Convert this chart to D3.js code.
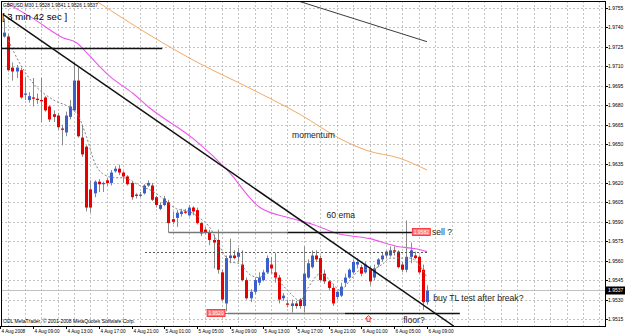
<!DOCTYPE html>
<html><head><meta charset="utf-8">
<script src="https://cdn.jsdelivr.net/npm/d3@7"></script>
<style>
body{margin:0;background:#fff}
svg{display:block}
text{font-family:"Liberation Sans",Arial,sans-serif}
</style>
</head><body>
<svg id="c" width="625" height="335"></svg>
<script>
// ---------- DATA ----------
const headerText = "GBPUSD,M30  1.9528 1.9541 1.9526 1.9537";
const timerText = "[ 3 min 42 sec ]";
const copyrightText = "ODL MetaTrader, \u00A9 2001-2008 MetaQuotes Software Corp.";
// bars: 30-minute candles, first bar index -7 (= 4 Aug 2008 05:30), index 0 = 4 Aug 09:00
const firstBarIndex = -7;
const opens = [1.9733,1.9733,1.9709,1.9706,1.9707,1.9688,1.9684,1.9686,1.9685,1.9684,1.9686,1.9679,1.9673,1.9672,1.9662,1.9659,1.9671,1.9676,1.9699,1.9655,1.9648,1.9615,1.9612,1.9621,1.9619,1.9622,1.9620,1.9629,1.9631,1.9628,1.9625,1.9620,1.9611,1.9610,1.9612,1.9618,1.9618,1.9609,1.9600,1.9603,1.9605,1.9592,1.9593,1.9596,1.9598,1.9595,1.9601,1.9599,1.9589,1.9584,1.9582,1.9576,1.9576,1.9551,1.9527,1.9562,1.9564,1.9563,1.9557,1.9545,1.9531,1.9536,1.9543,1.9545,1.9551,1.9557,1.9551,1.9547,1.9531,1.9527,1.9525,1.9527,1.9530,1.9525,1.9547,1.9555,1.9564,1.9562,1.9550,1.9544,1.9539,1.9532,1.9533,1.9543,1.9547,1.9551,1.9557,1.9555,1.9551,1.9554,1.9547,1.9557,1.9561,1.9564,1.9564,1.9568,1.9567,1.9557,1.9553,1.9563,1.9564,1.9563,1.9553,1.9528];
const highs = [1.9747,1.9735,1.9713,1.9711,1.9709,1.9702,1.9690,1.9701,1.9689,1.9701,1.9687,1.9680,1.9676,1.9674,1.9665,1.9675,1.9684,1.9713,1.9709,1.9665,1.9649,1.9622,1.9622,1.9623,1.9621,1.9624,1.9630,1.9633,1.9634,1.9629,1.9626,1.9621,1.9612,1.9613,1.9619,1.9622,1.9620,1.9610,1.9605,1.9610,1.9607,1.9598,1.9599,1.9600,1.9600,1.9603,1.9602,1.9601,1.9590,1.9586,1.9584,1.9580,1.9584,1.9553,1.9564,1.9577,1.9568,1.9570,1.9568,1.9547,1.9538,1.9547,1.9551,1.9553,1.9564,1.9563,1.9566,1.9549,1.9535,1.9530,1.9530,1.9529,1.9531,1.9571,1.9561,1.9568,1.9568,1.9564,1.9553,1.9545,1.9541,1.9537,1.9543,1.9550,1.9554,1.9561,1.9562,1.9557,1.9559,1.9556,1.9557,1.9562,1.9566,1.9568,1.9571,1.9571,1.9568,1.9559,1.9591,1.9574,1.9567,1.9564,1.9557,1.9541];
const lows = [1.9732,1.9706,1.9699,1.9701,1.9685,1.9684,1.9682,1.9679,1.9681,1.9667,1.9675,1.9667,1.9667,1.9661,1.9649,1.9656,1.9669,1.9675,1.9655,1.9640,1.9598,1.9597,1.9609,1.9613,1.9613,1.9618,1.9618,1.9628,1.9626,1.9620,1.9618,1.9607,1.9608,1.9609,1.9611,1.9617,1.9606,1.9601,1.9599,1.9602,1.9582,1.9588,1.9586,1.9594,1.9596,1.9594,1.9595,1.9588,1.9579,1.9580,1.9572,1.9554,1.9550,1.9529,1.9521,1.9558,1.9561,1.9559,1.9544,1.9530,1.9528,1.9534,1.9541,1.9544,1.9550,1.9550,1.9543,1.9527,1.9529,1.9524,1.9520,1.9523,1.9523,1.9520,1.9546,1.9554,1.9559,1.9544,1.9542,1.9537,1.9525,1.9530,1.9532,1.9540,1.9546,1.9550,1.9554,1.9548,1.9550,1.9541,1.9545,1.9555,1.9559,1.9562,1.9563,1.9564,1.9554,1.9551,1.9551,1.9558,1.9561,1.9550,1.9522,1.9526];
const closes = [1.9736,1.9707,1.9706,1.9709,1.9686,1.9689,1.9687,1.9685,1.9684,1.9683,1.9676,1.9669,1.9671,1.9663,1.9661,1.9672,1.9679,1.9699,1.9656,1.9642,1.9601,1.9601,1.9621,1.9619,1.9620,1.9620,1.9628,1.9631,1.9628,1.9625,1.9619,1.9609,1.9610,1.9611,1.9618,1.9620,1.9607,1.9603,1.9603,1.9608,1.9589,1.9590,1.9597,1.9598,1.9597,1.9601,1.9598,1.9589,1.9581,1.9582,1.9576,1.9574,1.9553,1.9530,1.9562,1.9564,1.9562,1.9566,1.9545,1.9531,1.9536,1.9545,1.9547,1.9551,1.9562,1.9554,1.9547,1.9530,1.9533,1.9526,1.9527,1.9525,1.9525,1.9550,1.9558,1.9564,1.9561,1.9545,1.9544,1.9539,1.9527,1.9536,1.9540,1.9547,1.9553,1.9559,1.9559,1.9550,1.9557,1.9544,1.9554,1.9561,1.9564,1.9567,1.9568,1.9567,1.9555,1.9553,1.9563,1.9568,1.9562,1.9551,1.9528,1.9537];
const bidPrice = 1.9537;

// indicator lines (bar index, price)
const ema60Bars   = [-6,0,7.3,10.7,13.2,18.8,24.4,28,39.5,47.3,55.3,62.6,68.2,74.1,82.1,88.7,93.6,96];
const ema60Values = [1.9758,1.9747,1.9732,1.9728,1.9720,1.9702,1.9689,1.9679,1.9653,1.9630,1.9601,1.9593,1.9588,1.9581,1.9577,1.9571,1.9569,1.9567];
const momentumBars   = [15.6,28.5,40.7,52.9,65,75.5,81.4,89.4,96];
const momentumValues = [1.9760,1.9734,1.9712,1.9693,1.9673,1.9653,1.9645,1.9639,1.9630];
const slowMaBars   = [65,80,96];
const slowMaValues = [1.9760,1.9745,1.9729];
const fastMaBars   = [-6,-3,0,5,9,11,13,15,17,20,22,26,30,32,35,38,41,43,46,48,50,53,55,58,60,63,65,67,70,72,75,77,80,82,85,87,89,92,94,96];
const fastMaValues = [1.9730,1.9711,1.9697,1.9684,1.9678,1.9672,1.9656,1.9636,1.9627,1.9624,1.9624,1.9618,1.9612,1.9607,1.9600,1.9598,1.9592,1.9586,1.9568,1.9559,1.9558,1.9549,1.9547,1.9551,1.9544,1.9534,1.9529,1.9539,1.9550,1.9546,1.9537,1.9544,1.9553,1.9553,1.9557,1.9562,1.9562,1.9562,1.9557,1.9547];

// drawn objects
const trendBars = [-7.3, 95];          const trendPrices = [1.9750, 1.9526];
const topLineBars = [-8, 31.5];        const topLinePrice = 1.9724;
const sellGreyBars = [33, 62];         const sellBlackBars = [62, 92.3]; const sellPrice = 1.9582;
const floorGreyBars = [47.4, 76];      const floorBlackBars = [76, 104];  const floorPrice = 1.9520;
const dottedBars = [27.3, 96];         const dottedPrice = 1.9567;
const priceLabelTexts = ["1.9582", "1.9520"];
const priceLabelBars  = [92.3, 47.4];
const priceLabelPrices = [1.9582, 1.9520];
const priceLabelSide = ["right", "left"];

const noteTexts  = ["momentum", "60 ema", "sell ?", "buy TL test after break?", "floor?"];
const noteBars   = [63.1, 71.5, 97.2, 97.5, 90.2];
const notePrices = [1.9655, 1.9593, 1.9580, 1.9529, 1.9512];
const arrowBar = 81.6, arrowPrice = 1.9516;

const priceTicks = [1.9755,1.9740,1.9725,1.9710,1.9695,1.9680,1.9665,1.9650,1.9635,1.9620,1.9605,1.9590,1.9575,1.9560,1.9545,1.9530,1.9515];
const timeLabels = ["4 Aug 2008","4 Aug 09:00","4 Aug 13:00","4 Aug 17:00","4 Aug 21:00","5 Aug 01:00","5 Aug 05:00","5 Aug 09:00","5 Aug 13:00","5 Aug 17:00","5 Aug 21:00","6 Aug 01:00","6 Aug 05:00","6 Aug 09:00"];
const timeLabelBars = [-8,0,8,16,24,32,40,48,56,64,72,80,88,96];

// ---------- DRAW ----------
const HALF_HOUR = 30*60*1000;
const base = Date.UTC(2008,7,4,9,0);
const t = k => new Date(base + k*HALF_HOUR);

const L = 1, R = 605, T = 1, B = 326;
const x = d3.scaleUtc().domain([t(0), t(96)]).range([33, 427]);
const y = d3.scaleLinear().domain([1.9515, 1.9755]).range([319, 8]);

const svg = d3.select("#c");
svg.append("rect").attr("width",625).attr("height",335).attr("fill","#fff");
svg.append("defs").append("clipPath").attr("id","plot")
  .append("rect").attr("x",L).attr("y",T).attr("width",R-L).attr("height",B-T);

const g = svg.append("g").attr("clip-path","url(#plot)");

// grid
const gridTimes = d3.utcHour.every(2).range(new Date(Date.UTC(2008,7,4,5)), x.invert(R));
g.append("g").selectAll("line").data(gridTimes).join("line")
  .attr("x1",d=>Math.round(x(d))+0.5).attr("x2",d=>Math.round(x(d))+0.5)
  .attr("y1",T).attr("y2",B)
  .attr("stroke","#c4c4c4").attr("stroke-dasharray","2,2");
g.append("g").selectAll("line").data(priceTicks).join("line")
  .attr("x1",L).attr("x2",R)
  .attr("y1",d=>Math.round(y(d))+0.5).attr("y2",d=>Math.round(y(d))+0.5)
  .attr("stroke","#c4c4c4").attr("stroke-dasharray","2,2");

// bid line
g.append("line").attr("x1",L).attr("x2",R)
  .attr("y1",Math.round(y(bidPrice))+0.5).attr("y2",Math.round(y(bidPrice))+0.5)
  .attr("stroke","#c0c0c0");

// candles
const bars = opens.map((o,i)=>({k:i+firstBarIndex,o,h:highs[i],l:lows[i],c:closes[i]}));
const cg = g.append("g");
cg.selectAll("line").data(bars).join("line")
  .attr("x1",d=>Math.round(x(t(d.k)))+0.5).attr("x2",d=>Math.round(x(t(d.k)))+0.5)
  .attr("y1",d=>y(d.h)).attr("y2",d=>y(d.l))
  .attr("stroke","#8a8a8a");
cg.selectAll("rect").data(bars).join("rect")
  .attr("x",d=>Math.round(x(t(d.k)))-1).attr("width",3)
  .attr("y",d=>y(Math.max(d.o,d.c)))
  .attr("height",d=>Math.max(1, Math.abs(y(d.o)-y(d.c))))
  .attr("fill",d=>d.c>d.o?"#3a5fcd":(d.c<d.o?"#e60000":"#8a8a8a"));

// indicator lines
function series(bs, vs){ return bs.map((b,i)=>[x(t(b)), y(vs[i])]); }
const smooth = d3.line().curve(d3.curveMonotoneX);
g.append("path").attr("d",smooth(series(fastMaBars,fastMaValues)))
  .attr("fill","none").attr("stroke","#808080").attr("stroke-dasharray","2,2");
g.append("path").attr("d",smooth(series(momentumBars,momentumValues)))
  .attr("fill","none").attr("stroke","#f5a960").attr("stroke-width",1);
g.append("path").attr("d",smooth(series(slowMaBars,slowMaValues)))
  .attr("fill","none").attr("stroke","#3c3c3c").attr("stroke-width",1);
g.append("path").attr("d",smooth(series(ema60Bars,ema60Values)))
  .attr("fill","none").attr("stroke","#ee55ee").attr("stroke-width",1.1);

// objects
function hline(bs, p, color, dash){
  const yy = Math.round(y(p))+0.5;
  g.append("line").attr("x1",x(t(bs[0]))).attr("x2",x(t(bs[1])))
    .attr("y1",yy).attr("y2",yy).attr("stroke",color)
    .attr("stroke-width", dash?1:1.3)
    .attr("stroke-dasharray", dash||null);
}
hline(dottedBars, dottedPrice, "#555", "2,2");
hline(topLineBars, topLinePrice, "#111");
hline(sellGreyBars, sellPrice, "#777");
hline(sellBlackBars, sellPrice, "#111");
hline(floorGreyBars, floorPrice, "#777");
hline(floorBlackBars, floorPrice, "#111");

// trend line, extended past its second anchor
{
  const x0 = x(t(trendBars[0])), y0 = y(trendPrices[0]);
  const x1 = x(t(trendBars[1])), y1 = y(trendPrices[1]);
  const s = (y1-y0)/(x1-x0);
  const xe = x0 + (B - y0)/s;
  g.append("line").attr("x1",x0).attr("y1",y0).attr("x2",xe).attr("y2",B)
    .attr("stroke","#111").attr("stroke-width",1.5);
}

// price labels (boxes)
priceLabelTexts.forEach((txt,i)=>{
  const px = x(t(priceLabelBars[i])), py = Math.round(y(priceLabelPrices[i]));
  const w = 18, h = 7;
  const bx = priceLabelSide[i]==="right" ? px : px - w - 3;
  if (priceLabelSide[i]==="left")
    g.append("line").attr("x1",bx+w).attr("x2",px).attr("y1",py+0.5).attr("y2",py+0.5).attr("stroke","#ff3030");
  g.append("rect").attr("x",bx+0.5).attr("y",py-h/2).attr("width",w).attr("height",h)
    .attr("fill","#ff7a7a").attr("stroke","#ff2020").attr("stroke-width",0.8);
  g.append("text").attr("x",bx+w/2+0.5).attr("y",py+2).attr("text-anchor","middle")
    .attr("font-size",5).attr("fill","#fff").text(txt);
});

// notes
const ng = svg.append("g");
noteTexts.forEach((txt,i)=>{
  ng.append("text").attr("x",x(t(noteBars[i]))).attr("y",y(notePrices[i]))
    .attr("font-size",8.6).attr("fill","#222").text(txt);
});
// up arrow marker (outlined)
{
  const ax = Math.round(x(t(arrowBar)))+0.5, ay = Math.round(y(arrowPrice))+0.5;
  g.append("path")
    .attr("d",`M${ax},${ay-3} L${ax+3},${ay} L${ax+1.5},${ay} L${ax+1.5},${ay+3} L${ax-1.5},${ay+3} L${ax-1.5},${ay} L${ax-3},${ay} Z`)
    .attr("fill","#ffd0d0").attr("stroke","#ff3030").attr("stroke-width",0.9);
}

// frame
svg.append("rect").attr("x",L+0.5).attr("y",T+0.5).attr("width",R-L).attr("height",B-T)
  .attr("fill","none").attr("stroke","#000");

// price axis
const pa = svg.append("g");
pa.selectAll("line").data(priceTicks).join("line")
  .attr("x1",R).attr("x2",R+3)
  .attr("y1",d=>Math.round(y(d))+0.5).attr("y2",d=>Math.round(y(d))+0.5)
  .attr("stroke","#000");
pa.selectAll("text").data(priceTicks).join("text")
  .attr("x",R+3).attr("y",d=>y(d)+2)
  .attr("font-size",5).attr("fill","#000").text(d=>d.toFixed(4));
// bid box
pa.append("rect").attr("x",R+1).attr("y",y(bidPrice)-4).attr("width",19).attr("height",8).attr("fill","#000");
pa.append("text").attr("x",R+3).attr("y",y(bidPrice)+2).attr("font-size",5).attr("fill","#fff").text(bidPrice.toFixed(4));

// time axis
const ta = svg.append("g");
timeLabels.forEach((lab,i)=>{
  const xx = Math.round(x(t(timeLabelBars[i])))+0.5;
  ta.append("line").attr("x1",xx).attr("x2",xx).attr("y1",B).attr("y2",B+3).attr("stroke","#000");
  ta.append("text").attr("x",xx+1).attr("y",333).attr("font-size",4.7).attr("fill","#000").text(lab);
});

// header / footer texts
svg.append("text").attr("x",3).attr("y",7).attr("font-size",4.8).attr("fill","#000").text(headerText);
svg.append("text").attr("x",2).attr("y",19.5).attr("font-size",9.6).attr("fill","#000").text(timerText);
svg.append("text").attr("x",3).attr("y",323).attr("font-size",5).attr("fill","#000").text(copyrightText);
</script>
</body></html>
